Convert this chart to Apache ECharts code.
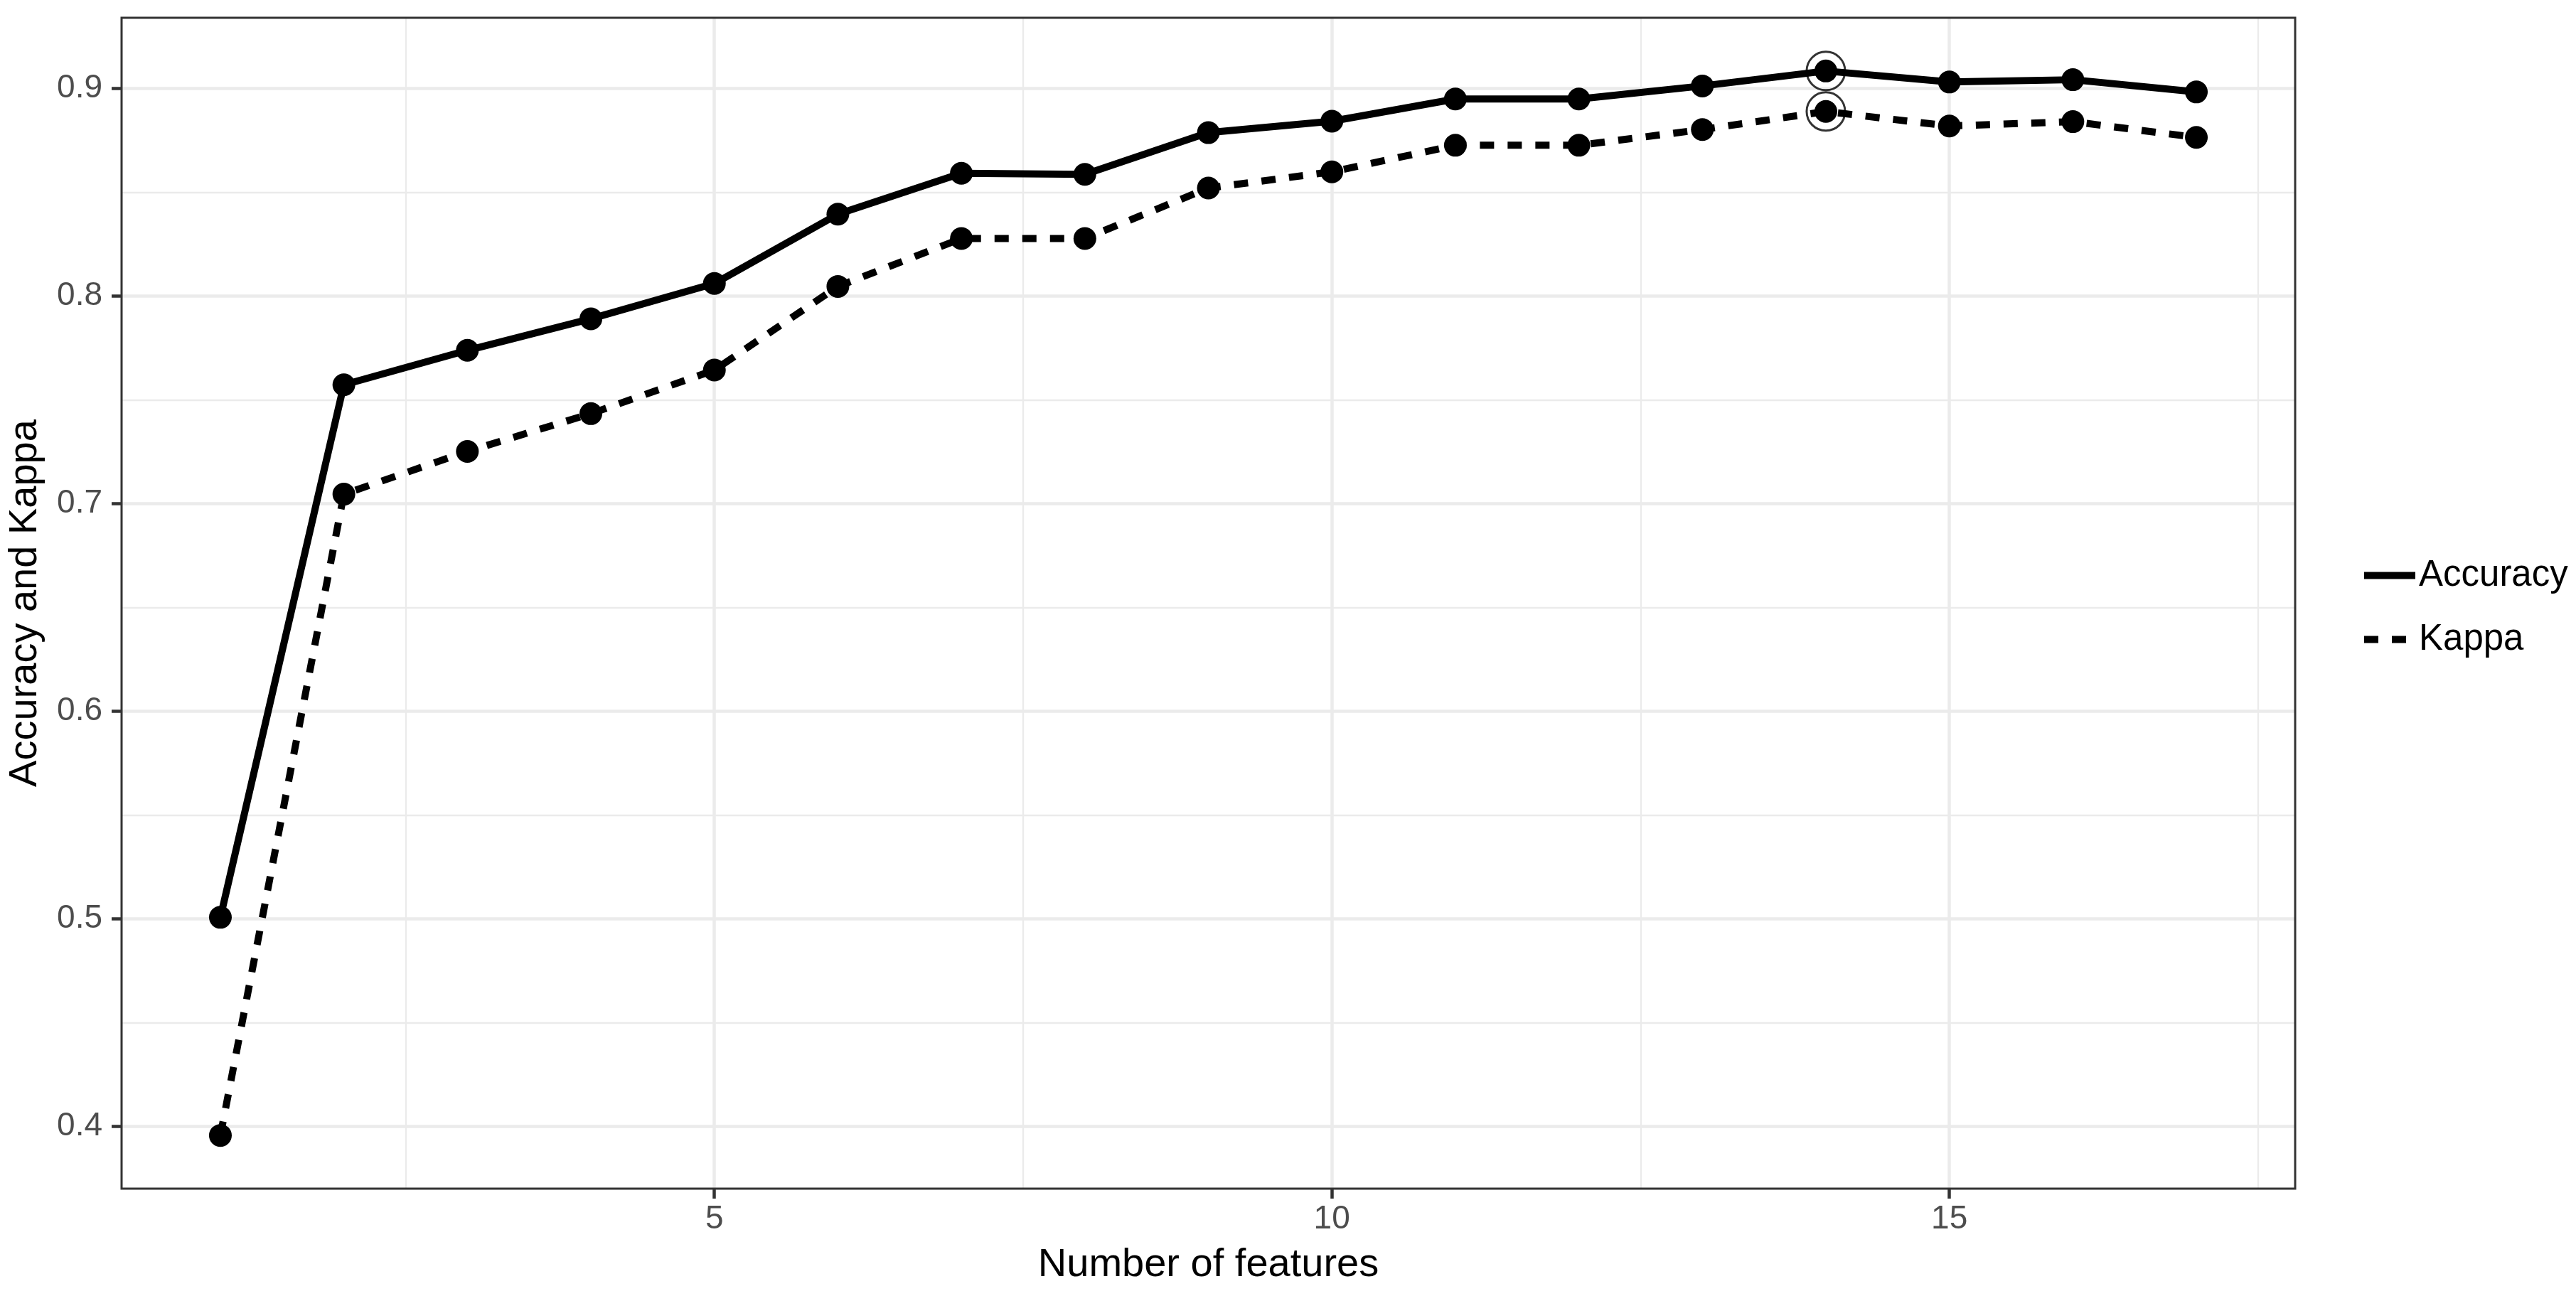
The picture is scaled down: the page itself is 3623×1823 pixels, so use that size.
<!DOCTYPE html>
<html>
<head>
<meta charset="utf-8">
<script src="https://cdn.jsdelivr.net/npm/echarts@6/dist/echarts.min.js"></script>
<style>
html,body{margin:0;padding:0;background:#fff;}
#chart{width:3623px;height:1823px;}
</style>
</head>
<body>
<div id="chart"></div>
<script>
// ---- data ----
const features = [1,2,3,4,5,6,7,8,9,10,11,12,13,14,15,16,17];
const accuracy = [0.5007,0.7573,0.7739,0.7891,0.8061,0.8395,0.8592,0.8587,0.8788,0.8843,0.8950,0.8950,0.9013,0.9085,0.9032,0.9043,0.8984];
const kappa    = [0.3956,0.7046,0.7252,0.7434,0.7644,0.8047,0.8278,0.8278,0.8521,0.8599,0.8727,0.8727,0.8803,0.8890,0.8820,0.8841,0.8765];
const seriesNames = ['Accuracy','Kappa'];
const xMajorTicks = [5,10,15];
const xMinorTicks = [2.5,7.5,12.5,17.5];
const yMajorTicks = [0.4,0.5,0.6,0.7,0.8,0.9];
const yMinorTicks = [0.45,0.55,0.65,0.75,0.85];
const xTitle = 'Number of features';
const yTitle = 'Accuracy and Kappa';

// ---- derived ----
const accPts = features.map((f,i)=>[f,accuracy[i]]);
const kapPts = features.map((f,i)=>[f,kappa[i]]);
let best = 0;
accuracy.forEach((v,i)=>{ if(v>accuracy[best]) best=i; });
const bestPts = [[features[best],accuracy[best]],[features[best],kappa[best]]];

// ggplot-style 5% expansion
const xr = [Math.min(...features), Math.max(...features)];
const xPad = (xr[1]-xr[0])*0.05;
const allY = accuracy.concat(kappa);
const yr = [Math.min(...allY), Math.max(...allY)];
const yPad = (yr[1]-yr[0])*0.05;

const FONT = "'Liberation Sans', Arial, sans-serif";
const gridMajor = {color:'#EBEBEB', width:4.5, type:'solid'};
const gridMinor = {color:'#EBEBEB', width:2.3, type:'solid'};
const DASH = [20,19];

const gridLines = []
  .concat(yMinorTicks.map(v=>({yAxis:v, lineStyle:gridMinor})))
  .concat(xMinorTicks.map(v=>({xAxis:v, lineStyle:gridMinor})))
  .concat(yMajorTicks.map(v=>({yAxis:v, lineStyle:gridMajor})))
  .concat(xMajorTicks.map(v=>({xAxis:v, lineStyle:gridMajor})));

const chart = echarts.init(document.getElementById('chart'), null, {renderer:'canvas'});
chart.setOption({
  animation:false,
  backgroundColor:'#ffffff',
  textStyle:{fontFamily:FONT},
  grid:{left:167, right:395, top:25, bottom:151, show:true, z:2, backgroundColor:'transparent', borderColor:'#333333', borderWidth:3, containLabel:false},
  xAxis:{
    type:'value', min:xr[0]-xPad, max:xr[1]+xPad,
    name:xTitle, nameLocation:'middle', nameGap:80,
    nameTextStyle:{fontSize:56, color:'#000', fontFamily:FONT},
    axisLine:{show:false},
    axisTick:{show:true, length:14, lineStyle:{color:'#333333', width:4.5}, customValues:xMajorTicks},
    axisLabel:{show:true, fontSize:46, color:'#4D4D4D', margin:20, fontFamily:FONT, customValues:xMajorTicks},
    splitLine:{show:false}, minorSplitLine:{show:false}
  },
  yAxis:{
    type:'value', min:yr[0]-yPad, max:yr[1]+yPad,
    name:yTitle, nameLocation:'middle', nameGap:107, nameRotate:90,
    nameTextStyle:{fontSize:56, color:'#000', fontFamily:FONT},
    axisLine:{show:false},
    axisTick:{show:true, length:14, lineStyle:{color:'#333333', width:4.5}, customValues:yMajorTicks},
    axisLabel:{show:true, fontSize:46, color:'#4D4D4D', margin:27, fontFamily:FONT, customValues:yMajorTicks},
    splitLine:{show:false}, minorSplitLine:{show:false}
  },
  legend:{
    orient:'vertical', left:3320, top:784, padding:0, itemWidth:72, itemHeight:50, itemGap:39,
    selectedMode:false,
    data:[
      {name:seriesNames[0], lineStyle:{width:10, color:'#000', type:'solid'}},
      {name:seriesNames[1], lineStyle:{width:10, color:'#000', type:DASH}}
    ],
    itemStyle:{opacity:0},
    lineStyle:{width:10},
    textStyle:{fontSize:51, color:'#000', fontFamily:FONT, lineHeight:50}
  },
  series:[
    {
      name:'grid', type:'line', data:accPts, z:1, silent:true,
      showSymbol:false, symbol:'none', lineStyle:{opacity:0},
      markLine:{silent:true, z:1, symbol:['none','none'], label:{show:false}, animation:false, data:gridLines}
    },
    {
      name:seriesNames[0], type:'line', data:accPts, z:3,
      symbol:'circle', symbolSize:32, showSymbol:true,
      itemStyle:{color:'#000', borderWidth:0},
      lineStyle:{color:'#000', width:10, type:'solid'}
    },
    {
      name:seriesNames[1], type:'line', data:kapPts, z:3,
      symbol:'circle', symbolSize:32, showSymbol:true,
      itemStyle:{color:'#000', borderWidth:0},
      lineStyle:{color:'#000', width:10, type:DASH}
    },
    {
      name:'best', type:'scatter', data:bestPts, z:4, silent:true,
      symbol:'circle', symbolSize:54,
      itemStyle:{color:'rgba(0,0,0,0)', borderColor:'#000', borderWidth:3}
    }
  ]
});
</script>
</body>
</html>
